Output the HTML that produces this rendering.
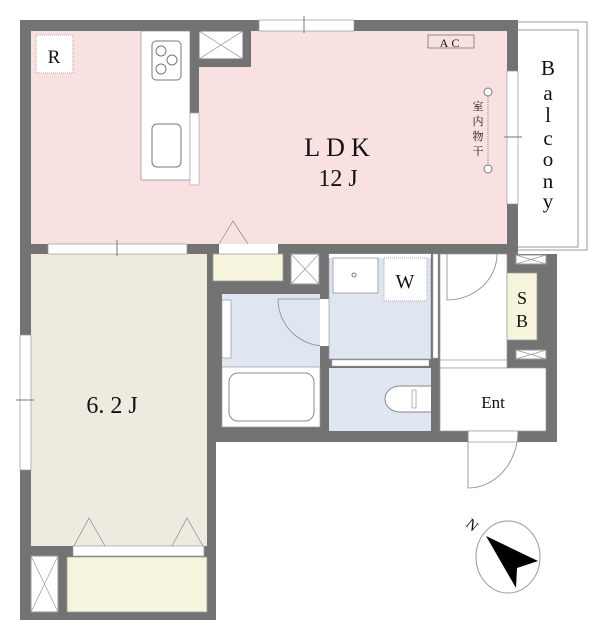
<!DOCTYPE html><html><head><style>body{margin:0;background:#fff}svg{display:block}text{font-family:"Liberation Serif","Noto Serif CJK SC",serif;fill:#111}</style></head><body>
<svg width="603" height="640" viewBox="0 0 603 640" xmlns="http://www.w3.org/2000/svg">
<rect x="510" y="22" width="77" height="228" fill="#fff" stroke="#999"/>
<rect x="510" y="30" width="68" height="217" fill="none" stroke="#999"/>
<path d="M20 20 H518 V254 H557 V442 H216 V620 H20 Z" fill="#737373"/>
<rect x="31" y="31" width="476" height="213" fill="#f9e1e2"/>
<rect x="190" y="20" width="61" height="47" fill="#737373"/>
<rect x="199" y="31" width="44" height="28" fill="#fff" stroke="#777"/>
<path d="M199 31L243 59M243 31L199 59" stroke="#888" stroke-width=".7"/>
<rect x="141" y="31" width="49" height="149" fill="#fff" stroke="#888" stroke-width=".7"/>
<rect x="190" y="31" width="9" height="82" fill="#737373"/>
<rect x="190" y="113" width="9" height="72" fill="#fff" stroke="#aaa" stroke-width=".7"/>
<rect x="152" y="41" width="29" height="39" rx="4" fill="none" stroke="#777"/>
<circle cx="161" cy="51" r="5" fill="none" stroke="#777"/><circle cx="172" cy="60" r="5" fill="none" stroke="#777"/><circle cx="161" cy="69" r="5" fill="none" stroke="#777"/>
<rect x="152" y="124" width="29" height="43" rx="5" fill="none" stroke="#777"/>
<rect x="36" y="35" width="37" height="38" fill="#fff" stroke="#aaa" stroke-dasharray="1 1"/>
<text x="54" y="63" font-size="19" text-anchor="middle">R</text>
<rect x="259" y="20" width="95" height="11" fill="#fff" stroke="#999" stroke-width=".7"/>
<line x1="304" y1="16" x2="304" y2="33" stroke="#777"/>
<rect x="428" y="35" width="46" height="13" fill="none" stroke="#777" stroke-width=".8"/>
<text x="451" y="47" font-size="12" text-anchor="middle" letter-spacing="3">AC</text>
<rect x="507" y="71" width="11" height="133" fill="#fff" stroke="#999" stroke-width=".7"/>
<line x1="504" y1="137" x2="522" y2="137" stroke="#777"/>
<line x1="488" y1="92" x2="488" y2="169" stroke="#888" stroke-dasharray="1 1"/>
<circle cx="488" cy="92" r="4" fill="#fff" stroke="#777"/><circle cx="488" cy="169" r="4" fill="#fff" stroke="#777"/>
<text x="478" y="110" font-size="11" text-anchor="middle" font-family="Noto Sans CJK JP">室</text>
<text x="478" y="125" font-size="11" text-anchor="middle" font-family="Noto Sans CJK JP">内</text>
<text x="478" y="140" font-size="11" text-anchor="middle" font-family="Noto Sans CJK JP">物</text>
<text x="478" y="155" font-size="11" text-anchor="middle" font-family="Noto Sans CJK JP">干</text>
<text x="340" y="156" font-size="26" text-anchor="middle" letter-spacing="6">LDK</text>
<text x="338" y="186" font-size="24" text-anchor="middle">12 J</text>
<g font-size="21" text-anchor="middle"><text x="548" y="75">B</text><text x="548" y="100">a</text><text x="548" y="122">l</text><text x="548" y="145">c</text><text x="548" y="166">o</text><text x="548" y="188">n</text><text x="548" y="208">y</text></g>
<rect x="31" y="254" width="176" height="292" fill="#edeae0"/>
<rect x="48" y="244" width="139" height="10" fill="#fff" stroke="#999" stroke-width=".7"/>
<line x1="117" y1="240" x2="117" y2="256" stroke="#777"/>
<rect x="20" y="335" width="11" height="135" fill="#fff" stroke="#999" stroke-width=".7"/>
<line x1="16" y1="400" x2="34" y2="400" stroke="#777"/>
<text x="112" y="413" font-size="24" text-anchor="middle">6. 2 J</text>
<rect x="73" y="546" width="131" height="10" fill="#fff" stroke="#999" stroke-width=".7"/>
<path d="M74 546L89 518L105 546M172 546L187 518L203 546" fill="none" stroke="#888" stroke-width=".7"/>
<rect x="31" y="556" width="27" height="56" fill="#fff" stroke="#999"/>
<path d="M31 556L58 612M58 556L31 612" stroke="#999" stroke-width=".7"/>
<rect x="67" y="557" width="140" height="55" fill="#f6f4dc" stroke="#999" stroke-width=".7"/>
<rect x="219" y="244" width="59" height="10" fill="#fff"/>
<path d="M219 244L233 221L248 244" fill="none" stroke="#888" stroke-width=".7"/>
<rect x="213" y="254" width="70" height="27" fill="#f6f4dc" stroke="#999" stroke-width=".7"/>
<rect x="291" y="254" width="28" height="30" fill="#fff" stroke="#999"/>
<path d="M291 254L319 284M319 254L291 284" stroke="#999" stroke-width=".7"/>
<rect x="222" y="294" width="98" height="73" fill="#dfe5f1"/>
<rect x="222" y="367" width="98" height="60" fill="#fff" stroke="#999" stroke-width=".7"/>
<rect x="229" y="373" width="85" height="48" rx="9" fill="none" stroke="#888"/>
<rect x="222" y="300" width="9" height="58" fill="#fff" stroke="#999" stroke-width=".7"/>
<path d="M278 299A47 47 0 0 0 326 346" fill="none" stroke="#888" stroke-width=".8"/>
<line x1="278" y1="299" x2="320" y2="299" stroke="#888" stroke-width=".8"/>
<rect x="320" y="299" width="9" height="47" fill="#fff"/>
<rect x="329" y="254" width="102" height="105" fill="#dfe5f1" stroke="#999" stroke-width=".7"/>
<rect x="329" y="254" width="102" height="4" fill="#fff"/>
<rect x="333" y="258" width="45" height="35" fill="#fff" stroke="#888" stroke-width=".7"/>
<circle cx="354" cy="275" r="2" fill="none" stroke="#777"/>
<rect x="384" y="258" width="43" height="43" fill="#fff" stroke="#aab" stroke-dasharray="1 1"/>
<text x="405" y="288" font-size="20" text-anchor="middle">W</text>
<rect x="431" y="254" width="9" height="114" fill="#737373"/>
<rect x="433" y="254" width="5" height="104" fill="#fff" stroke="#aaa" stroke-width=".5"/>
<rect x="329" y="368" width="102" height="63" fill="#dfe5f1"/>
<rect x="332" y="360" width="97" height="6" fill="#fff" stroke="#aaa" stroke-width=".5"/>
<path d="M431 386H400A15 13 0 0 0 400 412H431" fill="#fff" stroke="#888"/>
<rect x="412" y="390" width="4" height="18" fill="#fff" stroke="#888" stroke-width=".6"/>
<rect x="440" y="254" width="67" height="114" fill="#fff" stroke="#999" stroke-width=".7"/>
<line x1="440" y1="360" x2="507" y2="360" stroke="#999" stroke-width=".7"/>
<path d="M447 254V300A50 46 0 0 0 497 254" fill="none" stroke="#888" stroke-width=".8"/>
<rect x="440" y="368" width="106" height="63" fill="#fff" stroke="#999" stroke-width=".7"/>
<text x="493" y="408" font-size="17" text-anchor="middle">Ent</text>
<rect x="468" y="431" width="50" height="11" fill="#fff" stroke="#999" stroke-width=".7"/>
<path d="M468 431V488A50 57 0 0 0 518 431" fill="none" stroke="#888" stroke-width=".8"/>
<rect x="507" y="273" width="30" height="67" fill="#f6f4dc" stroke="#999" stroke-width=".7"/>
<text x="522" y="304" font-size="18" text-anchor="middle">S</text><text x="522" y="327" font-size="18" text-anchor="middle">B</text>
<rect x="516" y="255" width="30" height="9" fill="#fff" stroke="#999"/><path d="M516 255L546 264M546 255L516 264" stroke="#999" stroke-width=".7"/>
<rect x="516" y="350" width="30" height="9" fill="#fff" stroke="#999"/><path d="M516 350L546 359M546 350L516 359" stroke="#999" stroke-width=".7"/>
<ellipse cx="508" cy="557" rx="32" ry="36" fill="#fff" stroke="#999"/>
<path d="M486 536L538 561L517 568L516 588Z" fill="#000"/>
<text x="466" y="530" font-size="15" transform="rotate(40 472 526)">N</text>
</svg></body></html>
